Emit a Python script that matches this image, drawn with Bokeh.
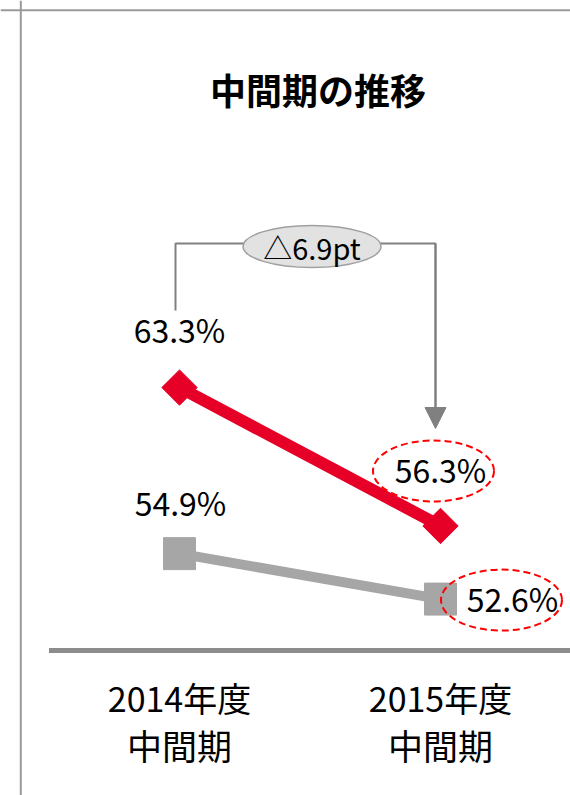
import numpy as np
from bokeh.plotting import figure
from bokeh.models import Range1d, Span, Arrow, NormalHead, ColumnDataSource
from bokeh.core.properties import value
from bokeh.embed import file_html
from bokeh.resources import INLINE

# ---------------- data ----------------
title_text = "中間期の推移"
cat_line1 = ["2014年度", "2015年度"]
cat_line2 = ["中間期", "中間期"]
x_idx = [0, 1]
red_vals = [63.3, 56.3]
gray_vals = [54.9, 52.6]
red_labels = ["63.3%", "56.3%"]
gray_labels = ["54.9%", "52.6%"]
delta_label = "△6.9pt"
axis_min = 50

# ---------------- layout / scale ----------------
W, H = 570, 795
PX_X = 261.0      # pixels per category step
PX_Y = 19.77      # pixels per percentage point
x_start = -179 / PX_X
x_end = x_start + W / PX_X
y_end = axis_min + 650 / PX_Y
y_start = y_end - H / PX_Y

RED = "#e60028"
GRAY = "#a6a6a6"
AXIS_GRAY = "#8c8c8c"
BRACKET = "#808080"
JP_FONT = value("Noto Sans CJK JP")

p = figure(width=W, height=H, x_range=Range1d(x_start, x_end),
           y_range=Range1d(y_start, y_end), toolbar_location=None,
           output_backend="svg", x_axis_location=None, y_axis_location=None,
           min_border=0, outline_line_color=None,
           background_fill_color="white", border_fill_color="white")
p.grid.visible = False

# frame border (left and top)
p.add_layout(Span(location=x_start + 20.3 / PX_X, dimension="height",
                  line_color="#9a9a9a", line_width=2))
p.add_layout(Span(location=y_end - 9.7 / PX_Y, dimension="width",
                  line_color="#9a9a9a", line_width=2))

# title
p.text(x=[(x_idx[0] + x_idx[1]) / 2 + 8 / PX_X], y=[axis_min + 562 / PX_Y],
       text=[title_text], text_font=JP_FONT, text_font_size="36px",
       text_font_style="bold", text_align="center", text_baseline="middle",
       text_color="black")

# baseline axis line
p.segment(x0=[x_idx[0] - 0.5], y0=[axis_min], x1=[x_idx[-1] + 0.5],
          y1=[axis_min], line_width=5, line_color=AXIS_GRAY)

# category labels
p.text(x=x_idx, y=[axis_min] * len(x_idx), text=cat_line1, y_offset=47,
       text_font=JP_FONT, text_font_size="34px", text_align="center",
       text_baseline="middle", text_color="black")
p.text(x=x_idx, y=[axis_min] * len(x_idx), text=cat_line2, y_offset=94,
       text_font=JP_FONT, text_font_size="35px", text_align="center",
       text_baseline="middle", text_color="black")

# series
p.line(x_idx, gray_vals, line_width=10, line_color=GRAY)
p.scatter(x_idx, gray_vals, marker="square", size=32, fill_color=GRAY,
          line_color=GRAY)
p.line(x_idx, red_vals, line_width=12, line_color=RED)
p.scatter(x_idx, red_vals, marker="square", angle=np.pi / 4, size=25,
          fill_color=RED, line_color=RED)

# data labels
red_src = ColumnDataSource(dict(x=x_idx, y=red_vals, t=red_labels,
                                dx=[0, 0], dy=[-59, -57]))
gray_src = ColumnDataSource(dict(x=x_idx, y=gray_vals, t=gray_labels,
                                 dx=[1, 72], dy=[-52, -1]))
for src in (red_src, gray_src):
    p.text(x="x", y="y", text="t", x_offset="dx", y_offset="dy", source=src,
           text_font=JP_FONT, text_font_size="32px", text_align="center",
           text_baseline="middle", text_color="black")

# dashed highlight ellipses around 2015 labels
p.ellipse(x=[x_idx[1] - 7 / PX_X, x_idx[1] + 61 / PX_X],
          y=[red_vals[1] + 55 / PX_Y, gray_vals[1] - 1 / PX_Y],
          width=121, height=61, width_units="screen", height_units="screen",
          fill_color=None, line_color="#ff0000", line_width=2,
          line_dash="7 4")

# bracket with arrow
top = axis_min + 407 / PX_Y
xl = x_idx[0] - 4 / PX_X
xr = x_idx[1] - 5 / PX_X
left_bottom = red_vals[0] + 3.9
tip = red_vals[1] + 4.93
p.line(x=[xl, xl, xr, xr], y=[left_bottom, top, top, tip + 10 / PX_Y],
       line_color=BRACKET, line_width=2)
p.add_layout(Arrow(end=NormalHead(size=21, fill_color=BRACKET,
                                  line_color=BRACKET),
                   x_start=xr, y_start=top, x_end=xr, y_end=tip,
                   line_color=BRACKET, line_width=2))

# delta badge
cx = (x_idx[0] + x_idx[1]) / 2 + 2 / PX_X
cy = top - 3 / PX_Y
p.ellipse(x=[cx], y=[cy], width=138, height=42, width_units="screen",
          height_units="screen", fill_color="#e2e2e2", line_color="#a0a0a0",
          line_width=1.5)
p.text(x=[cx], y=[cy], text=[delta_label], text_font=JP_FONT,
       text_font_size="29px", text_align="center", text_baseline="middle",
       text_color="black")

open("out.html", "w").write(file_html(p, INLINE))
